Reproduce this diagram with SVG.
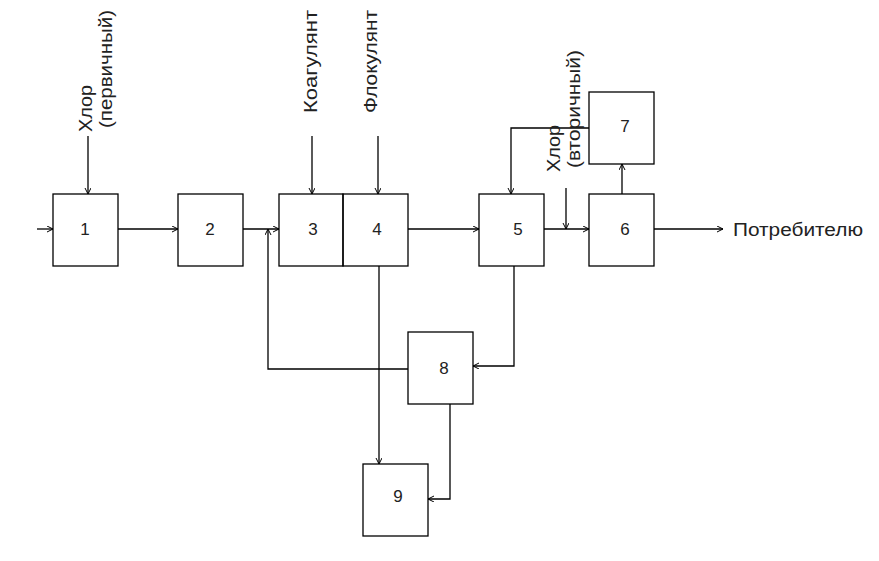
<svg xmlns="http://www.w3.org/2000/svg" width="879" height="561" viewBox="0 0 879 561">
<style>
.box{fill:none;stroke:#000;stroke-width:1.3}
.ln{fill:none;stroke:#000;stroke-width:1.3}
.arr{marker-end:url(#ah)}
.num{font-family:"Liberation Sans",Arial,sans-serif;font-size:17px;fill:#222;text-anchor:middle;dominant-baseline:central}
.lbl{font-family:"Liberation Sans",Arial,sans-serif;font-size:18px;fill:#222}
</style>
<defs>
<marker id="ah" markerUnits="userSpaceOnUse" markerWidth="8" markerHeight="8" refX="6" refY="3" orient="auto" viewBox="0 0 8 8">
<path d="M0,0 L6,3 L0,6" fill="none" stroke="#000" stroke-width="1"/>
</marker>
</defs>
<rect width="879" height="561" fill="#fff"/>
<g id="node1"><rect class="box" x="53" y="194" width="65" height="72"/><text class="num" x="85" y="229">1</text></g>
<g id="node2"><rect class="box" x="178" y="194" width="65" height="72"/><text class="num" x="210" y="229">2</text></g>
<g id="node3"><rect class="box" x="279" y="194" width="64" height="72"/><text class="num" x="313" y="229">3</text></g>
<g id="node4"><rect class="box" x="343" y="194" width="65" height="72"/><text class="num" x="377" y="229">4</text></g>
<g id="node5"><rect class="box" x="479" y="194" width="65" height="72"/><text class="num" x="518" y="229">5</text></g>
<g id="node6"><rect class="box" x="589" y="194" width="65" height="72"/><text class="num" x="625" y="229">6</text></g>
<g id="node7"><rect class="box" x="589" y="92" width="65" height="72"/><text class="num" x="625" y="126">7</text></g>
<g id="node8"><rect class="box" x="408" y="332" width="65" height="72"/><text class="num" x="444" y="368">8</text></g>
<g id="node9"><rect class="box" x="363" y="464" width="65" height="72"/><text class="num" x="398" y="496">9</text></g>
<g id="connectors">
<path class="ln arr" d="M37,229 H53"/>
<path class="ln arr" d="M88,136 V194"/>
<path class="ln arr" d="M118,229 H178"/>
<path class="ln arr" d="M243,229 H279"/>
<path class="ln arr" d="M312,136 V194"/>
<path class="ln arr" d="M378,136 V194"/>
<path class="ln arr" d="M408,229 H479"/>
<path class="ln arr" d="M544,229 H589"/>
<path class="ln arr" d="M566,188 V229"/>
<path class="ln arr" d="M654,229 H723"/>
<path class="ln arr" d="M622,194 V164"/>
<path class="ln arr" d="M589,128 H511 V194"/>
<path class="ln arr" d="M514,266 V366 H473"/>
<path class="ln arr" d="M408,369 H268 V229"/>
<path class="ln arr" d="M379,266 V464"/>
<path class="ln arr" d="M450,404 V499 H428"/>
</g>
<g id="labels">
<text class="lbl" transform="translate(92,132) rotate(-90)" textLength="47" lengthAdjust="spacingAndGlyphs">Хлор</text>
<text class="lbl" transform="translate(112,128) rotate(-90)" textLength="118" lengthAdjust="spacingAndGlyphs">(первичный)</text>
<text class="lbl" transform="translate(317,113) rotate(-90)" textLength="103" lengthAdjust="spacingAndGlyphs">Коагулянт</text>
<text class="lbl" transform="translate(377,113) rotate(-90)" textLength="103" lengthAdjust="spacingAndGlyphs">Флокулянт</text>
<text class="lbl" transform="translate(560,172) rotate(-90)" textLength="47" lengthAdjust="spacingAndGlyphs">Хлор</text>
<text class="lbl" transform="translate(580,168) rotate(-90)" textLength="118" lengthAdjust="spacingAndGlyphs">(вторичный)</text>
<text class="lbl" x="733" y="236" textLength="130" lengthAdjust="spacingAndGlyphs">Потребителю</text>
</g>
</svg>
